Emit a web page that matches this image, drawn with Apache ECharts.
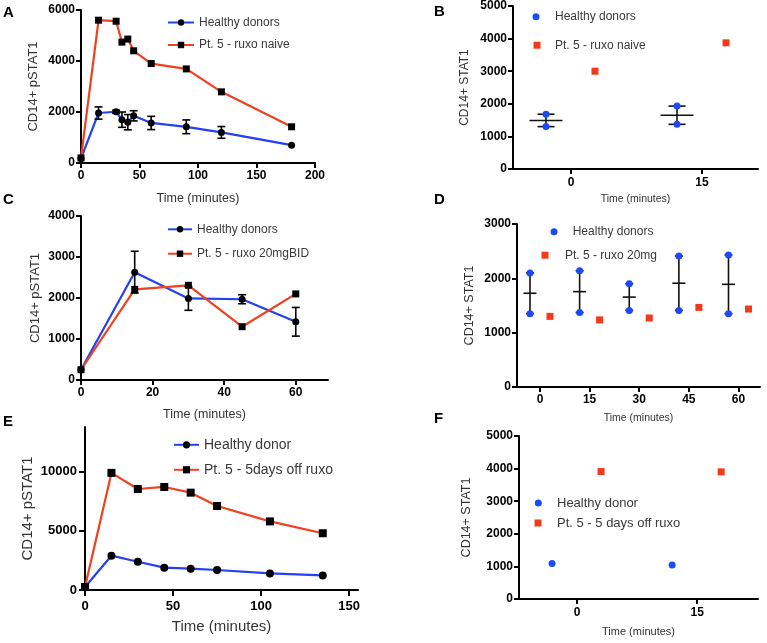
<!DOCTYPE html>
<html><head><meta charset="utf-8">
<script src="https://cdn.jsdelivr.net/npm/echarts@6/dist/echarts.min.js"></script>
<style>html,body{margin:0;padding:0;background:#fff}#c{width:767px;height:643px}</style>
</head><body><div id="c"></div>
<script>
// ---------- DATA ----------
// Panel A
const timesA = [0, 15, 30, 35, 40, 45, 60, 90, 120, 180];
const healthyA = [180, 1960, 2010, 1700, 1600, 1850, 1570, 1420, 1200, 700];
const healthyErrA = [0, 240, 60, 300, 300, 200, 260, 270, 230, 0];
const ptA = [200, 5600, 5560, 4740, 4860, 4400, 3900, 3690, 2790, 1420];
// Panel B
const timesB = [0, 15];
const healthyB = [[1300, 1680], [1370, 1930]];
const ptB = [3000, 3870];
// Panel C
const timesC = [0, 15, 30, 45, 60];
const healthyC = [250, 2630, 1990, 1970, 1420];
const healthyErrC = [0, 510, 290, 110, 350];
const ptC = [250, 2210, 2310, 1300, 2100];
// Panel D
const timesD = [0, 15, 30, 45, 60];
const healthyD = [[1350, 2100], [1370, 2140], [1410, 1900], [1410, 2410], [1350, 2430]];
const ptD = [1300, 1235, 1270, 1465, 1435];
// Panel E
const timesE = [0, 15, 30, 45, 60, 75, 105, 135];
const healthyE = [250, 2900, 2390, 1890, 1800, 1690, 1400, 1230];
const ptE = [250, 9900, 8540, 8710, 8230, 7100, 5800, 4800];
// Panel F
const timesF = [0, 15];
const healthyF = [1090, 1040];
const ptF = [3910, 3900];
// Tick labels
const ticksAx = [0, 50, 100, 150, 200], ticksAy = [0, 2000, 4000, 6000];
const ticksBx = [0, 15], ticksBy = [0, 1000, 2000, 3000, 4000, 5000];
const ticksCx = [0, 20, 40, 60], ticksCy = [0, 1000, 2000, 3000, 4000];
const ticksDx = [0, 15, 30, 45, 60], ticksDy = [0, 1000, 2000, 3000];
const ticksEx = [0, 50, 100, 150], ticksEy = [0, 5000, 10000];
const ticksFx = [0, 15], ticksFy = [0, 1000, 2000, 3000, 4000, 5000];

// ---------- STYLE ----------
const FONT = '"Liberation Sans", Arial, Helvetica, sans-serif';
const BLUE = '#2440f2', RED = '#f0401f';
const SBLUE = '#1c4bf5', SRED = '#f23a1a';

function axisCommon(ticks, name, gap, fs, nfs, margin, tl) {
  return {
    type: 'value', name: name, nameLocation: 'middle', nameGap: gap,
    nameTextStyle: {fontSize: nfs, color: '#333', fontFamily: FONT},
    axisLine: {onZero: false, lineStyle: {color: '#000', width: 2}},
    axisTick: {inside: false, length: tl || 5, customValues: ticks, lineStyle: {color: '#000', width: 2}},
    axisLabel: {customValues: ticks, formatter: v => String(v), fontWeight: 'bold', fontSize: fs,
                color: '#000', margin: margin, fontFamily: FONT},
    splitLine: {show: false}
  };
}
function xAx(gi, min, max, ticks, name, gap, fs, nfs, margin, tl) {
  return Object.assign(axisCommon(ticks, name, gap, fs, nfs, margin, tl), {gridIndex: gi, min: min, max: max});
}
function yAx(gi, max, ticks, name, gap, fs, nfs, margin, tl) {
  return Object.assign(axisCommon(ticks, name, gap, fs, nfs, margin, tl), {gridIndex: gi, min: 0, max: max});
}

function errBars(gi, xs, ys, errs, cap) {
  const d = [];
  xs.forEach((x, i) => { if (errs[i] > 0) d.push([x, ys[i] - errs[i], ys[i] + errs[i]]); });
  return {
    type: 'custom', xAxisIndex: gi, yAxisIndex: gi, z: 5, silent: true,
    encode: {x: 0, y: [1, 2]}, data: d,
    renderItem: function (p, api) {
      const a = api.coord([api.value(0), api.value(1)]);
      const b = api.coord([api.value(0), api.value(2)]);
      const st = {stroke: '#000', lineWidth: 1.6};
      return {type: 'group', children: [
        {type: 'line', shape: {x1: a[0], y1: a[1], x2: a[0], y2: b[1]}, style: st},
        {type: 'line', shape: {x1: a[0] - cap, y1: a[1], x2: a[0] + cap, y2: a[1]}, style: st},
        {type: 'line', shape: {x1: a[0] - cap, y1: b[1], x2: a[0] + cap, y2: b[1]}, style: st}
      ]};
    }
  };
}
function meanRange(gi, xs, groups, dx, halfMean, cap) {
  const d = xs.map((x, i) => {
    const g = groups[i];
    const m = g.reduce((s, v) => s + v, 0) / g.length;
    return [x, m, Math.min.apply(null, g), Math.max.apply(null, g)];
  });
  return {
    type: 'custom', xAxisIndex: gi, yAxisIndex: gi, z: 5, silent: true,
    encode: {x: 0, y: [1, 2, 3]}, data: d,
    renderItem: function (p, api) {
      const m = api.coord([api.value(0), api.value(1)]);
      const lo = api.coord([api.value(0), api.value(2)]);
      const hi = api.coord([api.value(0), api.value(3)]);
      const cx = m[0] + dx;
      const st = {stroke: '#111', lineWidth: 1.6};
      return {type: 'group', children: [
        {type: 'line', shape: {x1: cx, y1: lo[1], x2: cx, y2: hi[1]}, style: st},
        {type: 'line', shape: {x1: cx - halfMean, y1: m[1], x2: cx + halfMean, y2: m[1]}, style: st},
        {type: 'line', shape: {x1: cx - cap, y1: lo[1], x2: cx + cap, y2: lo[1]}, style: st},
        {type: 'line', shape: {x1: cx - cap, y1: hi[1], x2: cx + cap, y2: hi[1]}, style: st}
      ]};
    }
  };
}
function lineS(gi, name, xs, ys, color, sym, size) {
  return {
    type: 'line', name: name, xAxisIndex: gi, yAxisIndex: gi,
    data: xs.map((x, i) => [x, ys[i]]),
    symbol: sym, symbolSize: size, showSymbol: true,
    lineStyle: {color: color, width: 2.2}, itemStyle: {color: '#000'},
    z: 3
  };
}
function scatS(gi, name, xs, ys, color, sym, size, dx) {
  const d = [];
  xs.forEach((x, i) => {
    const v = ys[i];
    if (Array.isArray(v)) v.forEach(y => d.push([x, y])); else d.push([x, v]);
  });
  return {
    type: 'scatter', name: name, xAxisIndex: gi, yAxisIndex: gi, data: d,
    symbol: sym, symbolSize: size, symbolOffset: [dx, 0],
    itemStyle: {color: color, opacity: 1}, z: 6
  };
}
function leg(name, left, top, w, h, fs, padL) {
  return {
    data: [name], left: left, top: top, orient: 'vertical', padding: 0,
    itemWidth: w, itemHeight: h, selectedMode: false,
    formatter: n => n.split('|')[1],
    textStyle: {fontSize: fs, color: '#3a3a3a', fontFamily: FONT, padding: [0, 0, 0, padL || 0]}
  };
}

const option = {
  animation: false,
  backgroundColor: '#fff',
  grid: [
    {left: 81, top: 10, width: 234, height: 153},
    {left: 513, top: 6, width: 245, height: 163},
    {left: 81, top: 216, width: 247, height: 164},
    {left: 517, top: 224, width: 243, height: 163},
    {left: 85, top: 427, width: 273, height: 163},
    {left: 519, top: 436, width: 239, height: 163}
  ],
  xAxis: [
    xAx(0, 0, 200, ticksAx, 'Time (minutes)', 29, 12, 12.5, 7),
    xAx(1, -6.64, 21.41, ticksBx, 'Time (minutes)', 25, 12, 10.5, 8),
    xAx(2, 0, 69, ticksCx, 'Time (minutes)', 28.5, 12, 12.5, 7),
    xAx(3, -6.95, 66.5, ticksDx, 'Time (minutes)', 26, 12, 10.5, 7),
    xAx(4, 0, 155, ticksEx, 'Time (minutes)', 29.5, 13, 15, 10, 6),
    xAx(5, -7.25, 22.6, ticksFx, 'Time (minutes)', 27, 12, 11, 7.5)
  ],
  yAxis: [
    yAx(0, 6000, ticksAy, 'CD14+ pSTAT1', 41.5, 12, 13, 6),
    yAx(1, 5000, ticksBy, 'CD14+ STAT1', 42, 12, 12, 6),
    yAx(2, 4000, ticksCy, 'CD14+ pSTAT1', 39.5, 12, 13, 6),
    yAx(3, 3000, ticksDy, 'CD14+ STAT1', 41, 12, 12.5, 6),
    yAx(4, 13780, ticksEy, 'CD14+ pSTAT1', 49.5, 13, 15, 8, 6),
    yAx(5, 5000, ticksFy, 'CD14+ STAT1', 46, 12, 12.5, 6)
  ],
  legend: [
    leg('A|Healthy donors', 167, 16.5, 26, 8, 12),
    leg('A|Pt. 5 - ruxo naive', 167, 39, 26, 8, 12),
    leg('B|Healthy donors', 532.5, 10.8, 7, 7, 12, 10.5),
    leg('B|Pt. 5 - ruxo naive', 533.5, 39.2, 7, 7, 12, 9.5),
    leg('C|Healthy donors', 167, 223.3, 24, 8, 12),
    leg('C|Pt. 5 - ruxo 20mgBID', 167, 247.7, 24, 8, 12),
    leg('D|Healthy donors', 550.5, 225.8, 7, 7, 12, 10.2),
    leg('D|Pt. 5 - ruxo 20mg', 541.5, 249.2, 7, 7, 12, 11.5),
    leg('E|Healthy donor', 173, 437.8, 25, 9, 14),
    leg('E|Pt. 5 - 5days off ruxo', 173, 462.8, 25, 9, 14),
    leg('F|Healthy donor', 534.8, 496.5, 7, 7, 13, 10.2),
    leg('F|Pt. 5 - 5 days off ruxo', 534.5, 516.5, 7, 7, 13, 10.5)
  ],
  series: [
    lineS(0, 'A|Healthy donors', timesA, healthyA, BLUE, 'circle', 7),
    lineS(0, 'A|Pt. 5 - ruxo naive', timesA, ptA, RED, 'rect', 7),
    errBars(0, timesA, healthyA, healthyErrA, 4),
    scatS(1, 'B|Healthy donors', timesB, healthyB, SBLUE, 'circle', 7, -25),
    scatS(1, 'B|Pt. 5 - ruxo naive', timesB, ptB, SRED, 'rect', 7, 24),
    meanRange(1, timesB, healthyB, -25, 16.5, 8.5),
    lineS(2, 'C|Healthy donors', timesC, healthyC, BLUE, 'circle', 7),
    lineS(2, 'C|Pt. 5 - ruxo 20mgBID', timesC, ptC, RED, 'rect', 7),
    errBars(2, timesC, healthyC, healthyErrC, 4),
    scatS(3, 'D|Healthy donors', timesD, healthyD, SBLUE, 'circle', 7, -10),
    scatS(3, 'D|Pt. 5 - ruxo 20mg', timesD, ptD, SRED, 'rect', 7, 10),
    meanRange(3, timesD, healthyD, -10, 6.5, 4),
    lineS(4, 'E|Healthy donor', timesE, healthyE, BLUE, 'circle', 8),
    lineS(4, 'E|Pt. 5 - 5days off ruxo', timesE, ptE, RED, 'rect', 8),
    scatS(5, 'F|Healthy donor', timesF, healthyF, SBLUE, 'circle', 7, -25),
    scatS(5, 'F|Pt. 5 - 5 days off ruxo', timesF, ptF, SRED, 'rect', 7, 24)
  ],
  graphic: [
    {type: 'text', left: 3, top: 5, style: {text: 'A', font: 'bold 15px ' + FONT, fill: '#000'}},
    {type: 'text', left: 434, top: 4, style: {text: 'B', font: 'bold 15px ' + FONT, fill: '#000'}},
    {type: 'text', left: 3, top: 192, style: {text: 'C', font: 'bold 15px ' + FONT, fill: '#000'}},
    {type: 'text', left: 434, top: 192, style: {text: 'D', font: 'bold 15px ' + FONT, fill: '#000'}},
    {type: 'text', left: 3, top: 414, style: {text: 'E', font: 'bold 15px ' + FONT, fill: '#000'}},
    {type: 'text', left: 434, top: 411, style: {text: 'F', font: 'bold 15px ' + FONT, fill: '#000'}}
  ]
};
const chart = echarts.init(document.getElementById('c'), null, {renderer: 'canvas'});
chart.setOption(option);
</script>
</body></html>
